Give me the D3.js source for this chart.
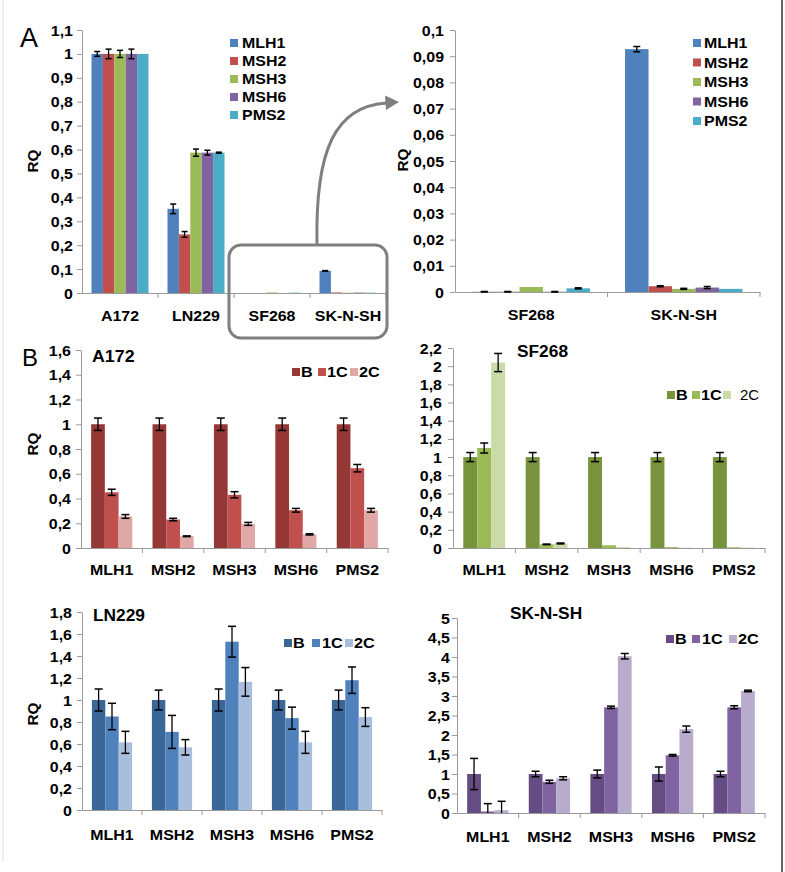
<!DOCTYPE html>
<html><head><meta charset="utf-8">
<script src="https://cdn.jsdelivr.net/npm/d3@7"></script>
<style>body{margin:0;background:#fff}svg{display:block}</style>
</head><body><svg id="c" width="785" height="872"></svg>
<script>
// ---------- DATA ----------
const genes = ["MLH1", "MSH2", "MSH3", "MSH6", "PMS2"];
const cellLines = ["A172", "LN229", "SF268", "SK-N-SH"];
const zoomLines = ["SF268", "SK-N-SH"];
const treatments = ["B", "1C", "2C"];

// Panel A: RQ of each gene per cell line
const rqA172 = [1, 1, 1, 1, 1];
const errA172 = [0.01, 0.02, 0.015, 0.02, 0];
const rqLN229 = [0.352, 0.245, 0.587, 0.587, 0.587];
const errLN229 = [0.02, 0.012, 0.015, 0.01, 0.002];
const rqSF268 = [0.0001, 0.0001, 0.0019, 0.0001, 0.0014];
const errSF268 = [0.0001, 0.0001, 0, 0.0001, 0.0002];
const rqSKNSH = [0.0927, 0.0022, 0.0012, 0.0017, 0.0012];
const errSKNSH = [0.001, 0.0002, 0.0002, 0.0004, 0];

// Panel B: per gene, treatments B / 1C / 2C
const bA172_B = [1, 1, 1, 1, 1];
const bA172_1C = [0.45, 0.23, 0.43, 0.305, 0.645];
const bA172_2C = [0.255, 0.095, 0.195, 0.11, 0.305];
const eA172_B = [0.05, 0.05, 0.05, 0.05, 0.05];
const eA172_1C = [0.025, 0.01, 0.025, 0.015, 0.03];
const eA172_2C = [0.015, 0.003, 0.012, 0.005, 0.015];

const bSF268_B = [1, 1, 1, 1, 1];
const bSF268_1C = [1.1, 0.04, 0.03, 0.01, 0.008];
const bSF268_2C = [2.04, 0.05, 0.01, 0.003, 0.005];
const eSF268_B = [0.05, 0.05, 0.05, 0.05, 0.05];
const eSF268_1C = [0.055, 0.003, 0, 0, 0];
const eSF268_2C = [0.1, 0.005, 0, 0, 0];

const bLN229_B = [1, 1, 1, 1, 1];
const bLN229_1C = [0.85, 0.71, 1.53, 0.835, 1.18];
const bLN229_2C = [0.615, 0.57, 1.165, 0.615, 0.845];
const eLN229_B = [0.1, 0.09, 0.1, 0.09, 0.09];
const eLN229_1C = [0.12, 0.15, 0.14, 0.1, 0.12];
const eLN229_2C = [0.1, 0.07, 0.13, 0.1, 0.085];

const bSKNSH_B = [1, 1, 1, 1, 1];
const bSKNSH_1C = [0.04, 0.8, 2.71, 1.48, 2.71];
const bSKNSH_2C = [0.07, 0.89, 4.02, 2.15, 3.13];
const eSKNSH_B = [0.4, 0.07, 0.1, 0.18, 0.07];
const eSKNSH_1C = [0.2, 0.04, 0.03, 0.02, 0.04];
const eSKNSH_2C = [0.23, 0.04, 0.07, 0.08, 0.02];

// Tick labels
const ticksA = [0, 0.1, 0.2, 0.3, 0.4, 0.5, 0.6, 0.7, 0.8, 0.9, 1, 1.1];
const ticksAzoom = [0, 0.01, 0.02, 0.03, 0.04, 0.05, 0.06, 0.07, 0.08, 0.09, 0.1];
const ticksBA172 = [0, 0.2, 0.4, 0.6, 0.8, 1, 1.2, 1.4, 1.6];
const ticksBSF268 = [0, 0.2, 0.4, 0.6, 0.8, 1, 1.2, 1.4, 1.6, 1.8, 2, 2.2];
const ticksBLN229 = [0, 0.2, 0.4, 0.6, 0.8, 1, 1.2, 1.4, 1.6, 1.8];
const ticksBSKNSH = [0, 0.5, 1, 1.5, 2, 2.5, 3, 3.5, 4, 4.5, 5];

// Colours
const geneColors = ["#4F81BD", "#C0504D", "#9BBB59", "#8064A2", "#4BACC6"];
const colA172 = ["#953735", "#C0504D", "#DFA8A7"];
const colSF268 = ["#77933C", "#9BBB59", "#CADAA8"];
const colLN229 = ["#3B6698", "#4F81BD", "#A9BDDC"];
const colSKNSH = ["#654C82", "#8064A2", "#B8ACCD"];

// ---------- DRAWING ----------
const svg = d3.select("#c");
const FONT = '"Liberation Sans", Arial, Helvetica, sans-serif';
const SX = 1.1;
const FS = 14.5;
const AX = "#9a9a9a";
const fmt = v => String(v).replace(".", ",");

function txt(g, x, y, s, o = {}) {
  return g.append("text")
    .attr("transform", `translate(${x},${y}) rotate(${o.rot || 0}) scale(${o.sx || SX},1)`)
    .attr("text-anchor", o.anchor || "start").attr("dy", "0.35em")
    .attr("font-family", FONT).attr("font-size", o.size || FS)
    .attr("font-weight", o.weight || "bold").attr("fill", o.fill || "#000").text(s);
}

function panel(cfg) {
  const g = svg.append("g");
  const x = d3.scaleBand().domain(cfg.cats).range([cfg.x0, cfg.x1])
    .paddingInner(cfg.pad).paddingOuter(cfg.pad / 2);
  const xi = d3.scaleBand().domain(cfg.series).range([0, x.bandwidth()]);
  const y = d3.scaleLinear().domain([0, cfg.ymax]).range([cfg.yb, cfg.yt]);

  // y axis
  const ya = g.append("g").attr("transform", `translate(${cfg.x0},0)`)
    .call(d3.axisLeft(y).tickValues(cfg.ticks).tickSize(5).tickSizeOuter(0).tickFormat(fmt));
  ya.select(".domain").attr("stroke", AX);
  ya.selectAll(".tick line").attr("stroke", AX);
  ya.selectAll(".tick text").attr("x", null).attr("dy", "0.35em")
    .attr("transform", `translate(${-cfg.labOff},0) scale(${SX},1)`)
    .attr("font-family", FONT).attr("font-size", FS).attr("font-weight", "bold").attr("fill", "#000");

  // x axis
  const xa = g.append("g").attr("transform", `translate(0,${cfg.yb})`)
    .call(d3.axisBottom(x).tickSize(0).tickSizeOuter(0));
  xa.select(".domain").attr("stroke", AX);
  xa.selectAll(".tick text").attr("y", null).attr("dy", "0.35em")
    .attr("transform", `translate(0,${cfg.xlabOff}) scale(${SX},1)`)
    .attr("font-family", FONT).attr("font-size", FS).attr("font-weight", "bold").attr("fill", "#000");
  const step = x.step();
  xa.selectAll(".bt").data(cfg.cats).enter().append("line")
    .attr("x1", c => x(c) + x.bandwidth() / 2 + step / 2)
    .attr("x2", c => x(c) + x.bandwidth() / 2 + step / 2)
    .attr("y1", 0).attr("y2", 5).attr("stroke", AX);

  // bars
  const flat = [];
  cfg.cats.forEach((c, ci) => cfg.series.forEach((s, si) =>
    flat.push({ c, s, si, v: cfg.values[ci][si], e: cfg.errors[ci][si] })));
  g.selectAll(".bar").data(flat).enter().append("rect")
    .attr("x", d => x(d.c) + xi(d.s)).attr("width", xi.bandwidth())
    .attr("y", d => y(d.v)).attr("height", d => y(0) - y(d.v))
    .attr("fill", d => cfg.colors[d.si]);

  // error bars
  const cw = cfg.cap;
  const minV = cfg.errMinValue || 0;
  flat.forEach(d => {
    if (d.e <= 0 || d.v < minV) return;
    const cx = x(d.c) + xi(d.s) + xi.bandwidth() / 2;
    const lo = Math.max(0, d.v - d.e), hi = d.v + d.e;
    g.append("line").attr("x1", cx).attr("x2", cx).attr("y1", y(lo)).attr("y2", y(hi))
      .attr("stroke", "#000").attr("stroke-width", 1.3);
    g.append("line").attr("x1", cx - cw / 2).attr("x2", cx + cw / 2).attr("y1", y(hi)).attr("y2", y(hi))
      .attr("stroke", "#000").attr("stroke-width", 1.5);
    if (d.v - d.e >= 0)
      g.append("line").attr("x1", cx - cw / 2).attr("x2", cx + cw / 2).attr("y1", y(lo)).attr("y2", y(lo))
        .attr("stroke", "#000").attr("stroke-width", 1.5);
  });
  return g;
}

// Panel A left
const valsA = [rqA172, rqLN229, rqSF268, rqSKNSH];
const errsA = [errA172, errLN229, errSF268, errSKNSH];
panel({ cats: cellLines, series: genes, values: valsA, errors: errsA, colors: geneColors, errMinValue: 0.01,
  x0: 82, x1: 386, yb: 293, yt: 30, ymax: 1.1, ticks: ticksA, pad: 0.25, labOff: 9, xlabOff: 23, cap: 6 });
// Panel A right (zoom)
panel({ cats: zoomLines, series: genes, values: [rqSF268, rqSKNSH], errors: [errSF268, errSKNSH], colors: geneColors,
  x0: 455, x1: 760, yb: 292, yt: 30, ymax: 0.1, ticks: ticksAzoom, pad: 0.23, labOff: 11, xlabOff: 23, cap: 7 });

function byGene(a, b, c) { return genes.map((_, i) => [a[i], b[i], c[i]]); }
panel({ cats: genes, series: treatments, values: byGene(bA172_B, bA172_1C, bA172_2C),
  errors: byGene(eA172_B, eA172_1C, eA172_2C), colors: colA172,
  x0: 81, x1: 388, yb: 548, yt: 350, ymax: 1.6, ticks: ticksBA172, pad: 0.33, labOff: 10, xlabOff: 22, cap: 8 });
panel({ cats: genes, series: treatments, values: byGene(bSF268_B, bSF268_1C, bSF268_2C),
  errors: byGene(eSF268_B, eSF268_1C, eSF268_2C), colors: colSF268,
  x0: 453, x1: 765, yb: 548, yt: 348, ymax: 2.2, ticks: ticksBSF268, pad: 0.33, labOff: 11, xlabOff: 22, cap: 8 });
panel({ cats: genes, series: treatments, values: byGene(bLN229_B, bLN229_1C, bLN229_2C),
  errors: byGene(eLN229_B, eLN229_1C, eLN229_2C), colors: colLN229,
  x0: 82, x1: 382, yb: 810, yt: 612, ymax: 1.8, ticks: ticksBLN229, pad: 0.33, labOff: 10, xlabOff: 25, cap: 8 });
panel({ cats: genes, series: treatments, values: byGene(bSKNSH_B, bSKNSH_1C, bSKNSH_2C),
  errors: byGene(eSKNSH_B, eSKNSH_1C, eSKNSH_2C), colors: colSKNSH,
  x0: 457, x1: 765, yb: 813, yt: 618, ymax: 5, ticks: ticksBSKNSH, pad: 0.33, labOff: 7, xlabOff: 24, cap: 8 });

// Text decorations
const t = svg.append("g");
txt(t, 20, 38, "A", { size: 27, weight: "normal", sx: 1 });
txt(t, 22, 358, "B", { size: 24, weight: "normal", sx: 1 });
txt(t, 33, 161, "RQ", { rot: -90, anchor: "middle", sx: 1.05 });
txt(t, 403, 160, "RQ", { rot: -90, anchor: "middle", sx: 1.05 });
txt(t, 33, 444, "RQ", { rot: -90, anchor: "middle", sx: 1.05 });
txt(t, 33, 714, "RQ", { rot: -90, anchor: "middle", sx: 1.05 });
txt(t, 92, 356, "A172", { size: 16.5, sx: 1.08 });
txt(t, 517, 351, "SF268", { size: 16.5, sx: 1.05 });
txt(t, 93, 615, "LN229", { size: 16.5, sx: 1.05 });
txt(t, 510, 613, "SK-N-SH", { size: 16.5, sx: 1.05 });

// Legends panel A
genes.forEach((gname, i) => {
  const yy = 43 + 18 * i;
  t.append("rect").attr("x", 230).attr("y", yy - 4).attr("width", 8).attr("height", 8).attr("fill", geneColors[i]);
  txt(t, 242, yy, gname);
  const y2 = 43 + 19.5 * i;
  t.append("rect").attr("x", 693).attr("y", y2 - 4).attr("width", 8).attr("height", 8).attr("fill", geneColors[i]);
  txt(t, 704, y2, gname);
});

// Legends panel B
function legendB(yy, sqx, tx, cols, weights) {
  treatments.forEach((tr, i) => {
    t.append("rect").attr("x", sqx[i]).attr("y", yy - 4).attr("width", 8).attr("height", 8).attr("fill", cols[i]);
    txt(t, tx[i], yy, tr, { size: 15, weight: weights ? weights[i] : "bold", sx: weights && weights[i] === "normal" ? 1 : 1.08 });
  });
}
legendB(372, [292, 318, 350], [301, 327, 359], colA172);
legendB(395, [667, 692, 723], [676, 701, 740], colSF268, ["bold", "bold", "normal"]);
legendB(643, [284, 312, 345], [293, 322, 354], colLN229);
legendB(639, [666, 692, 729], [675, 702, 738], colSKNSH);

// Zoom box and arrow
const gb = svg.append("g");
gb.append("rect").attr("x", 229).attr("y", 245).attr("width", 158).attr("height", 93).attr("rx", 12)
  .attr("fill", "none").attr("stroke", "#7f7f7f").attr("stroke-width", 3);
gb.append("path").attr("d", "M317,245 C315,150 335,106 387,103")
  .attr("fill", "none").attr("stroke", "#7f7f7f").attr("stroke-width", 3);
gb.append("path").attr("d", "M399,102 L385,95.5 L386,110 Z").attr("fill", "#7f7f7f");

// Borders
svg.append("line").attr("x1", 3).attr("x2", 3).attr("y1", 0).attr("y2", 862).attr("stroke", "#dcdcdc");
svg.append("line").attr("x1", 782).attr("x2", 782).attr("y1", 0).attr("y2", 872).attr("stroke", "#333").attr("stroke-width", 1.5);
</script></body></html>
